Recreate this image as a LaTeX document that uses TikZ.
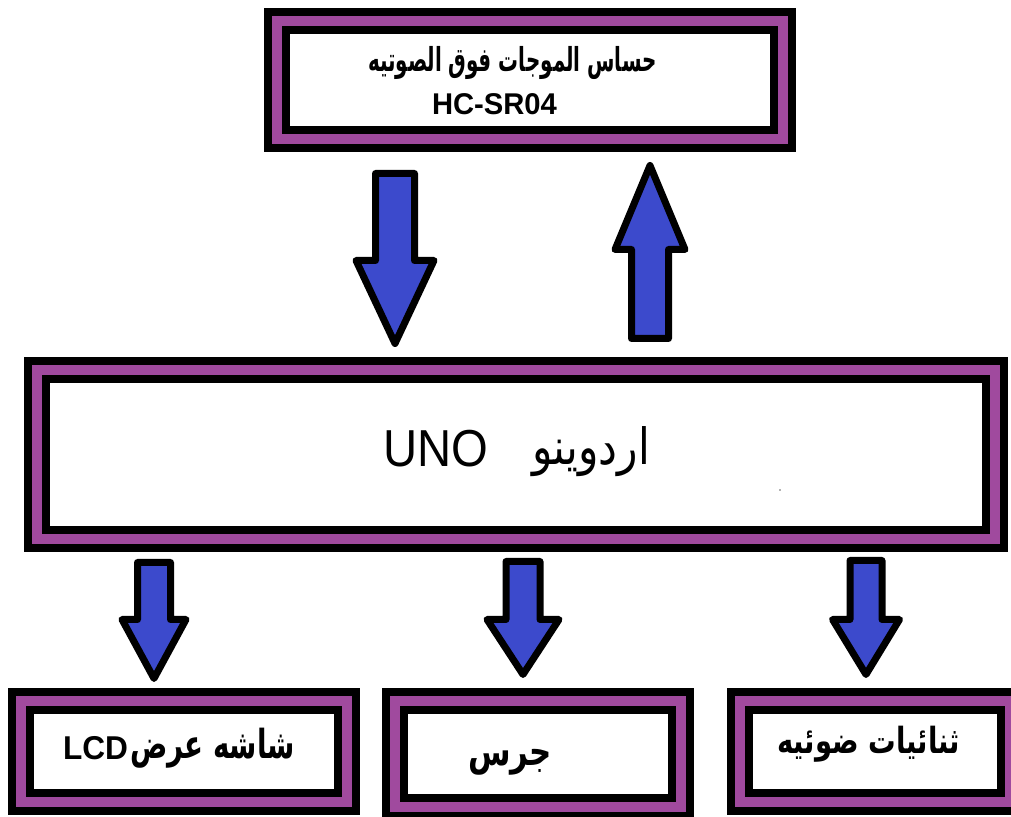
\documentclass[tikz,border=0pt]{standalone}
\usepackage{fontspec}
\setmainfont{Liberation Sans}
\newfontfamily\arabicfont[Script=Arabic]{DejaVu Sans}
\TeXXeTstate=1
\definecolor{boxpurple}{RGB}{160,74,158}
\definecolor{arrowblue}{RGB}{60,74,204}
\tikzset{
  layerbox/.style={draw=black, line width=8.5pt, double=boxpurple, double distance=9.5pt,
    fill=white, inner sep=0pt, rectangle},
  blockarrow/.style={draw=black, fill=arrowblue, line width=7pt, line join=round},
  lbl/.style={inner sep=0pt, anchor=base}
}
% x, tail y, tip y, shaft half width, head half width, head base y
\newcommand{\myblockarrow}[6]{%
  \filldraw[blockarrow] (#1-#4,#2) -- (#1+#4,#2) -- (#1+#4,#6) -- (#1+#5,#6) -- (#1,#3)
     -- (#1-#5,#6) -- (#1-#4,#6) -- cycle;}
\begin{document}
\begin{tikzpicture}[x=1pt,y=1pt]
\clip (0,0) rectangle (1011,816);
\fill[white] (0,0) rectangle (1011,816);

% boxes
\node[layerbox, minimum width=506pt, minimum height=118pt] (sensor) at (530,736) {};
\node[layerbox, minimum width=958pt, minimum height=169pt] (uno) at (516,361.5) {};
\node[layerbox, minimum width=326pt, minimum height=101pt] (lcd) at (184,64.5) {};
\node[layerbox, minimum width=286pt, minimum height=106pt] (bell) at (538,62) {};
\node[layerbox, minimum width=270pt, minimum height=101pt] (leds) at (875,64.5) {};

% texts
\node[lbl] (sensorar) at (512.5,744) {\resizebox{289pt}{\height}{\fontsize{33pt}{36pt}\selectfont\arabicfont\bfseries\beginR حساس الموجات فوق الصوتيه\endR}};
\node[lbl] (sensoren) at (494.5,701) {\resizebox{125pt}{\height}{\fontsize{30pt}{34pt}\selectfont\bfseries HC-SR04}};
\node[lbl] (unoen) at (435.5,349) {\resizebox{105pt}{\height}{\fontsize{52pt}{56pt}\selectfont UNO}};
\node[lbl] (unoar) at (591,351) {\resizebox{118pt}{\height}{\fontsize{50pt}{54pt}\selectfont\arabicfont\beginR اردوينو\endR}};
\node[lbl] (lcden) at (95.5,57) {\resizebox{65pt}{\height}{\fontsize{33pt}{36pt}\selectfont\bfseries LCD}};
\node[lbl] (lcdar) at (212.5,57) {\resizebox{165pt}{\height}{\fontsize{40pt}{44pt}\selectfont\arabicfont\bfseries\beginR شاشه عرض\endR}};
\node[lbl] (bellar) at (510,51) {\resizebox{84pt}{\height}{\fontsize{40pt}{44pt}\selectfont\arabicfont\bfseries\beginR جرس\endR}};
\node[lbl] (ledsar) at (868.5,63) {\resizebox{183pt}{\height}{\fontsize{36pt}{40pt}\selectfont\arabicfont\bfseries\beginR ثنائيات ضوئيه\endR}};

% stray dot
\fill[black!60] (780,326) circle (0.8);

% arrows
\myblockarrow{395}{642.5}{472.5}{19.5}{39}{555.5}
\myblockarrow{650}{477.5}{650.5}{18.5}{35}{566.5}
\myblockarrow{154}{253.5}{137.5}{16.5}{32}{196.5}
\myblockarrow{523}{254.5}{141.5}{17}{36}{196.5}
\myblockarrow{866}{255.5}{141.5}{16}{33.5}{196.5}
\end{tikzpicture}
\end{document}
